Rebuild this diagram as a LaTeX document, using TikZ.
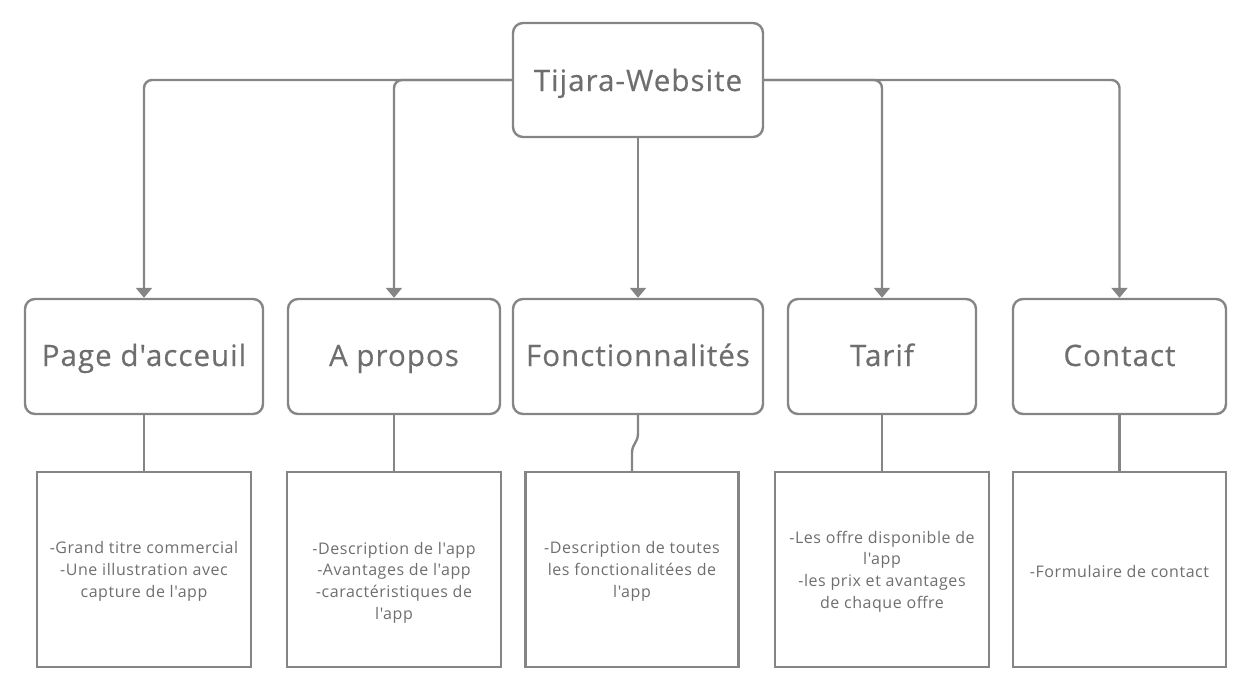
\documentclass[tikz,border=0pt]{standalone}
\usepackage{fontspec}
\setmainfont{Open Sans}[Ligatures=TeXOff]
\newfontfamily\titlefont{Open Sans}[Ligatures=TeXOff,LetterSpace=3.5,FakeBold=0.4]
\newfontfamily\notefont{Open Sans}[Ligatures=TeXOff,LetterSpace=3.5]
\usetikzlibrary{arrows.meta,positioning}
\definecolor{linegray}{HTML}{858585}
\definecolor{textgray}{HTML}{6E6E6E}
\tikzset{
  rootbox/.style={draw=linegray,line width=2.4pt,rounded corners=10pt,minimum width=250pt,minimum height=114pt,text=textgray,text height=27pt,text depth=5pt,font=\titlefont\fontsize{29.5}{36}\selectfont},
  pagebox/.style={draw=linegray,line width=2.4pt,rounded corners=10pt,minimum height=115pt,text=textgray,text height=24pt,text depth=5pt,font=\titlefont\fontsize{29.5}{36}\selectfont},
  detailbox/.style={draw=linegray,line width=2.4pt,minimum width=214pt,minimum height=195pt},
  detailtext/.style={text=textgray,align=center,font=\notefont\fontsize{16}{21.7}\selectfont},
  link/.style={draw=linegray,line width=2.4pt,rounded corners=8pt,-{Triangle[length=10pt,width=16pt]}},
  plainlink/.style={draw=linegray,line width=2.4pt}
}
\begin{document}
\begin{tikzpicture}[x=1pt,y=-1pt]
\useasboundingbox (0,0) rectangle (1251,691);
% root
\node[rootbox] (site) at (638,80) {Tijara-Website};
% pages
\node[pagebox,minimum width=238pt] (home) at (144,356.5) {Page d'acceuil};
\node[pagebox,minimum width=212pt] (about) at (394,356.5) {A propos};
\node[pagebox,minimum width=250pt] (feat) at (638,356.5) {Fonctionnalités};
\node[pagebox,minimum width=188pt] (price) at (882,356.5) {Tarif};
\node[pagebox,minimum width=213pt] (contact) at (1119.5,356.5) {Contact};
% details
\node[detailbox] (homeinfo) at (144,569.5) {};
\node[detailbox] (aboutinfo) at (394,569.5) {};
\node[detailbox,minimum width=213pt] (featinfo) at (632,569.5) {};
\node[detailbox] (priceinfo) at (882,569.5) {};
\node[detailbox,minimum width=213pt] (contactinfo) at (1119.5,569.5) {};
\node[detailtext] at ([yshift=-2pt]homeinfo.center) {-Grand titre commercial\\-Une illustration avec\\capture de l'app};
\node[detailtext] at ([yshift=-13pt]aboutinfo.center) {-Description de l'app\\-Avantages de l'app\\-caractéristiques de\\l'app};
\node[detailtext] at ([yshift=-2pt]featinfo.center) {-Description de toutes\\les fonctionalitées de\\l'app};
\node[detailtext] at ([yshift=-2pt]priceinfo.center) {-Les offre disponible de\\l'app\\-les prix et avantages\\de chaque offre};
\node[detailtext] at ([yshift=-2pt]contactinfo.center) {-Formulaire de contact};
% links from the root
\draw[link] (site.west) -| (home.north);
\draw[link] (site.west) -| (about.north);
\draw[link] (site.south) -- (feat.north);
\draw[link] (site.east) -| (price.north);
\draw[link] (site.east) -| (contact.north);
% links to the details
\draw[plainlink] (home.south) -- (homeinfo.north);
\draw[plainlink] (about.south) -- (aboutinfo.north);
\draw[plainlink] (feat.south) -- ++(0,18) .. controls +(0,10) and +(0,-10) .. ++(-6,20) -- (featinfo.north);
\draw[plainlink] (price.south) -- (priceinfo.north);
\draw[plainlink] (contact.south) -- (contactinfo.north);
\end{tikzpicture}
\end{document}
